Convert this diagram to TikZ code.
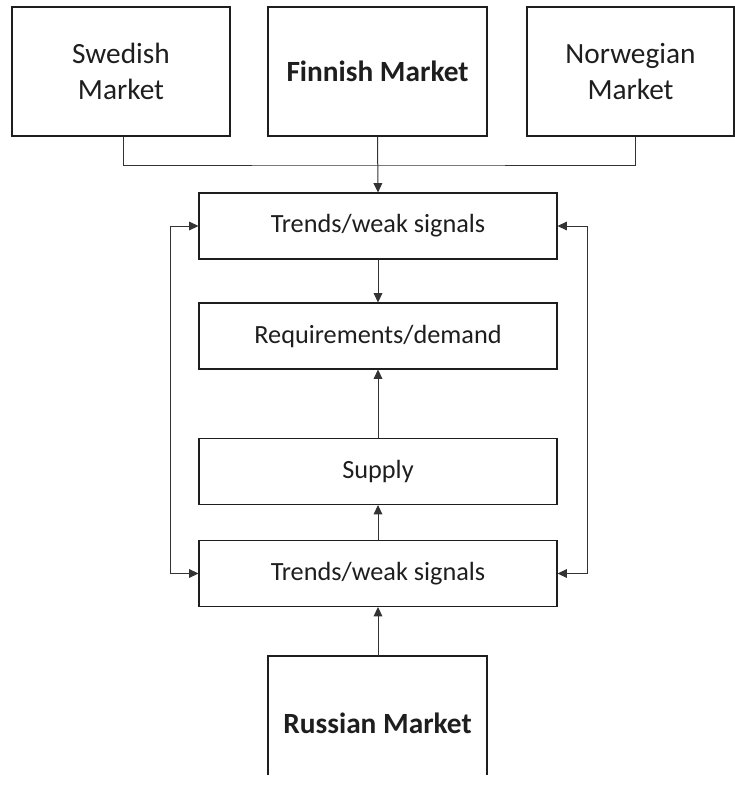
\documentclass[tikz,border=0pt]{standalone}
\usepackage{fontspec}
\setmainfont{Carlito}
\usetikzlibrary{arrows.meta}
\definecolor{ink}{HTML}{1E1E1E}
\definecolor{wire}{HTML}{333333}
\tikzset{
  box/.style={draw=ink, line width=0.8pt, rectangle, inner sep=0pt, align=center, text=ink},
  market/.style={box, font=\fontsize{22}{27}\selectfont},
  flowbox/.style={box, minimum width=268.5pt, minimum height=49.5pt, font=\fontsize{19.7}{24}\selectfont},
  conn/.style={draw=wire, line width=0.75pt},
  arr/.style={conn, -{Triangle[length=7pt,width=6.5pt]}},
  darr/.style={conn, {Triangle[length=7pt,width=6.5pt]}-{Triangle[length=7pt,width=6.5pt]}}
}
\begin{document}
\begin{tikzpicture}[x=0.75pt, y=-0.75pt]
\useasboundingbox (0,0) rectangle (735,785);
% top markets
\node[market, minimum width=163.5pt, minimum height=96.75pt] (swe) at (121,71.5) {Swedish\\Market};
\node[market, minimum width=164.25pt, minimum height=96.75pt, font=\fontsize{22}{27}\selectfont\bfseries] (fin) at (377.5,71.5) {Finnish Market};
\node[market, minimum width=155.25pt, minimum height=96.75pt] (nor) at (630.5,71.5) {Norwegian\\Market};
% flow boxes
\node[flowbox] (t1) at (378,226) {Trends/weak signals};
\node[flowbox] (req) at (378,336) {Requirements/demand};
\node[flowbox] (sup) at (378,471.5) {Supply};
\node[flowbox] (t2) at (378,573.5) {Trends/weak signals};
% Russian market (cut off at the bottom)
\draw[draw=ink, line width=0.8pt] (268,775) -- (268,656) -- (487,656) -- (487,775);
\coordinate (rustop) at (378,656);
\node[text=ink, font=\fontsize{22}{27}\selectfont\bfseries] (rus) at (377.5,723) {Russian Market};
% connectors from top markets
\coordinate (join) at (377.5,165);
\draw[conn] ([xshift=1.5pt]swe.south) |- (join) -| ([xshift=4pt]nor.south);
\draw[arr] (fin.south) -- (t1.north);
% vertical flow
\draw[arr] (t1.south) -- (req.north);
\draw[arr] (sup.north) -- (req.south);
\draw[arr] (t2.north) -- (sup.south);
\draw[arr] (rustop) -- (t2.south);
% feedback loops
\draw[darr] (t1.west) -- ++(-28,0) |- (t2.west);
\draw[darr] (t1.east) -- ++(30,0) |- (t2.east);
\end{tikzpicture}
\end{document}
